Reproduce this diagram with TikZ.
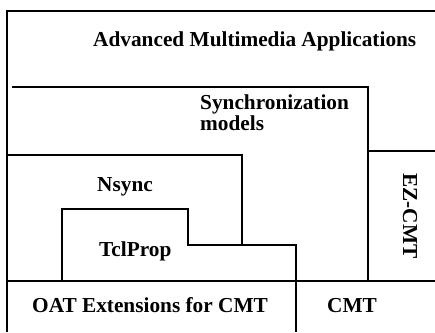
\documentclass[tikz,border=0pt]{standalone}
\usepackage{fontspec}
\setmainfont{Liberation Serif}
\usetikzlibrary{positioning}

\tikzset{layer/.style={black, line width=1.8pt},
         lbl/.style={font=\bfseries\fontsize{21.3}{19}\selectfont, anchor=base west}}

\begin{document}
\begin{tikzpicture}[x=1pt,y=-1pt]
    \tikzstyle{every node}+=[inner sep=0pt]
    \useasboundingbox (0,0) rectangle (435,332);
    % outer frame
    \draw [layer] (7,332) -- (7,11) -- (435,11);
    % synchronization models
    \draw [layer] (12,87) -- (368,87) -- (368,151) -- (435,151);
    \draw [layer] (368,151) -- (368,281);
    % nsync
    \draw [layer] (7,155) -- (242,155) -- (242,245);
    % tclprop
    \draw [layer] (62,281) -- (62,209) -- (188,209) -- (188,245) -- (296,245) -- (296,332);
    % base line
    \draw [layer] (7,281) -- (435,281);
    \node [lbl] (apps) at (93,46.5) {Advanced Multimedia Applications};
    \node [lbl, align=left, anchor=north west] (sync) at (200,95) {Synchronization\\models};
    \node [lbl] (nsync) at (97,191) {Nsync};
    \node [lbl] (tclprop) at (99,256) {TclProp};
    \node [lbl] (oat) at (32,312) {OAT Extensions for CMT};
    \node [lbl] (cmt) at (327,312) {CMT};
    \node [lbl, anchor=center, rotate=-90] (ezcmt) at (410,216) {EZ-CMT};
\end{tikzpicture}
\end{document}
